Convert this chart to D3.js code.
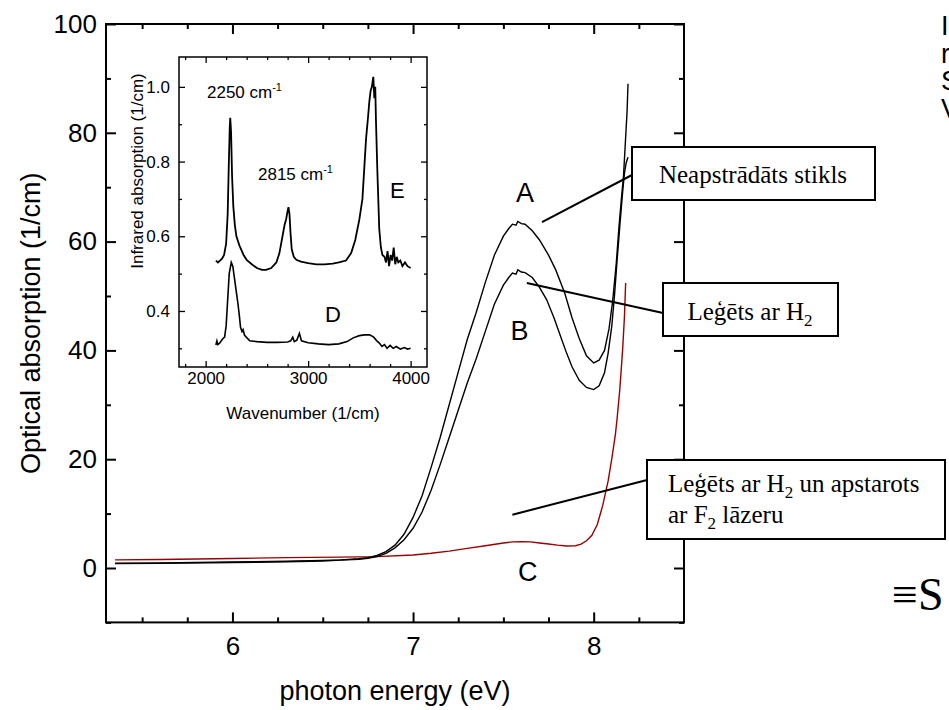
<!DOCTYPE html>
<html><head><meta charset="utf-8">
<script src="https://cdn.jsdelivr.net/npm/d3@7"></script>
<style>body{margin:0;background:#fff}svg{display:block}</style>
</head><body>
<svg id="c" width="949" height="710"></svg>
<script>
// ---------- DATA ----------
const xDomain = [5.3, 8.5];
const yDomain = [-10, 100];
const xMajor = [6, 7, 8];
const xMinor = [5.5, 5.75, 6.25, 6.5, 6.75, 7.25, 7.5, 7.75, 8.25];
const yMajor = [0, 20, 40, 60, 80, 100];
const yMinor = [-10, 10, 30, 50, 70, 90];

const energyA = [5.35,5.6,6.0,6.3,6.5,6.6,6.7,6.75,6.8,6.85,6.9,6.95,7.0,7.05,7.1,7.15,7.2,7.25,7.3,7.35,7.4,7.45,7.5,7.53,7.55,7.57,7.58,7.6,7.62,7.66,7.7,7.75,7.79,7.84,7.88,7.92,7.96,8.0,8.03,8.06,8.085,8.105,8.125,8.14,8.155,8.165,8.175,8.185,8.19];
const absA    = [0.9,0.95,1.1,1.25,1.4,1.5,1.7,1.9,2.3,3.0,4.2,6.2,9.3,13.3,18.5,24,30,36,42,47,52.5,57.5,61,62.4,63.2,63.0,63.7,63.3,63.2,62,60.3,57.5,54.8,50.5,46,42.2,39,37.7,38.2,40,44,49,56,62.7,68.5,72,78,84,89];

const energyB = [5.35,5.6,6.0,6.3,6.5,6.6,6.7,6.75,6.8,6.85,6.9,6.95,7.0,7.05,7.1,7.15,7.2,7.25,7.3,7.35,7.4,7.45,7.5,7.53,7.55,7.57,7.58,7.6,7.62,7.66,7.7,7.74,7.78,7.81,7.85,7.88,7.92,7.96,8.0,8.03,8.06,8.08,8.1,8.115,8.13,8.145,8.16,8.17,8.18,8.19];
const absB    = [0.8,0.85,1.0,1.15,1.3,1.45,1.6,1.8,2.1,2.7,3.7,5.2,7.3,10.3,14.3,19,24,29,34,38.5,43.5,48.5,52,53.4,54.2,54.0,54.8,54.4,54.3,53.4,51.6,49.3,46,43.2,39.5,37,34.5,33.2,32.8,33.5,35.9,39.5,44.4,50,56.7,63,69,72.5,74.5,75.5];

const energyC = [5.35,5.6,6.0,6.3,6.6,6.8,7.0,7.1,7.2,7.3,7.4,7.5,7.55,7.6,7.65,7.7,7.75,7.8,7.85,7.9,7.93,7.96,7.99,8.02,8.05,8.08,8.1,8.12,8.13,8.145,8.16,8.17,8.177];
const absC    = [1.5,1.55,1.75,1.9,2.0,2.1,2.4,2.7,3.1,3.6,4.1,4.6,4.8,4.85,4.8,4.6,4.4,4.2,4.05,4.1,4.4,5.0,6.0,8,11.5,16,20,24.5,27.6,33,40,46,52.4];

// inset
const ixDomain = [1740, 4160];
const iyDomain = [0.25, 1.08];
const ixMajor = [2000, 3000, 4000];
const ixMinor = [1800, 2200, 2400, 2600, 2800, 3200, 3400, 3600, 3800];
const iyMajor = [0.4, 0.6, 0.8, 1.0];
const iyMinor = [0.3, 0.5, 0.7, 0.9];

const wnE = [2100,2120,2140,2160,2180,2200,2215,2225,2235,2240,2248,2258,2270,2285,2300,2330,2370,2400,2450,2500,2550,2590,2640,2690,2720,2750,2770,2785,2798,2808,2818,2828,2840,2860,2885,2930,3000,3080,3160,3240,3300,3370,3420,3460,3500,3530,3565,3585,3597,3610,3622,3636,3646,3655,3662,3675,3694,3710,3725,3745,3760,3775,3790,3805,3820,3835,3850,3865,3880,3900,3920,3945,3970,4000];
const irE = [0.535,0.53,0.535,0.54,0.55,0.58,0.66,0.78,0.89,0.917,0.88,0.76,0.68,0.63,0.6,0.575,0.55,0.537,0.525,0.515,0.51,0.51,0.515,0.53,0.555,0.6,0.63,0.645,0.665,0.678,0.66,0.61,0.565,0.545,0.537,0.532,0.528,0.525,0.525,0.527,0.53,0.535,0.555,0.59,0.645,0.7,0.86,0.92,0.96,0.99,1.0,1.027,0.97,1.0,0.91,0.78,0.62,0.57,0.55,0.545,0.53,0.56,0.52,0.55,0.535,0.57,0.525,0.545,0.53,0.535,0.52,0.53,0.52,0.515];

const wnD = [2100,2110,2120,2140,2165,2185,2200,2215,2230,2250,2265,2280,2300,2315,2330,2340,2355,2365,2380,2430,2500,2600,2700,2800,2830,2850,2865,2890,2915,2935,3000,3100,3200,3300,3380,3440,3500,3550,3600,3640,3670,3695,3720,3745,3770,3800,3830,3860,3900,3940,3970,4000];
const irD = [0.309,0.32,0.31,0.315,0.325,0.33,0.36,0.43,0.5,0.53,0.52,0.49,0.45,0.42,0.385,0.357,0.345,0.35,0.335,0.32,0.318,0.316,0.316,0.317,0.32,0.33,0.318,0.322,0.34,0.32,0.315,0.312,0.31,0.312,0.318,0.328,0.334,0.336,0.336,0.33,0.32,0.314,0.305,0.31,0.3,0.308,0.3,0.305,0.298,0.302,0.298,0.3];

// ---------- LAYOUT ----------
const SANS = "'Liberation Sans', Arial, Helvetica, sans-serif";
const SERIF = "'Liberation Serif', 'Times New Roman', serif";
const svg = d3.select("#c");

const M = {l:106, r:684, t:24, b:622.4};
const x = d3.scaleLinear().domain(xDomain).range([M.l, M.r]);
const y = d3.scaleLinear().domain(yDomain).range([M.b, M.t]);

// curves
const mline = d3.line().x(d=>x(d[0])).y(d=>y(d[1]));
const gC = svg.append("g").attr("fill","none");
gC.append("path").attr("d", mline(d3.zip(energyC, absC))).attr("stroke","#990000").attr("stroke-width",1.4);
gC.append("path").attr("d", mline(d3.zip(energyB, absB))).attr("stroke","#000").attr("stroke-width",1.4);
gC.append("path").attr("d", mline(d3.zip(energyA, absA))).attr("stroke","#000").attr("stroke-width",1.4);

// axes helpers
function styleAxis(g, fs, font){
  g.select(".domain").remove();
  g.selectAll("line").attr("stroke","#000").attr("stroke-width",2);
  g.selectAll("text").attr("font-family",font).attr("font-size",fs).attr("fill","#000");
}
const gA = svg.append("g");
gA.append("g").attr("transform",`translate(0,${M.b})`)
  .call(d3.axisBottom(x).tickValues(xMajor).tickSize(-10).tickPadding(14).tickFormat(d3.format("d")))
  .call(g=>styleAxis(g,26,SANS));
gA.append("g").attr("transform",`translate(0,${M.b})`)
  .call(d3.axisBottom(x).tickValues(xMinor).tickSize(-5).tickFormat(""))
  .call(g=>styleAxis(g,26,SANS));
gA.append("g").attr("transform",`translate(0,${M.t})`)
  .call(d3.axisTop(x).tickValues(xMajor).tickSize(-10).tickFormat(""))
  .call(g=>styleAxis(g,26,SANS));
gA.append("g").attr("transform",`translate(0,${M.t})`)
  .call(d3.axisTop(x).tickValues(xMinor).tickSize(-5).tickFormat(""))
  .call(g=>styleAxis(g,26,SANS));
gA.append("g").attr("transform",`translate(${M.l},0)`)
  .call(d3.axisLeft(y).tickValues(yMajor).tickSize(-10).tickPadding(9).tickFormat(d3.format("d")))
  .call(g=>styleAxis(g,26,SANS));
gA.append("g").attr("transform",`translate(${M.l},0)`)
  .call(d3.axisLeft(y).tickValues(yMinor).tickSize(-5).tickFormat(""))
  .call(g=>styleAxis(g,26,SANS));
gA.append("g").attr("transform",`translate(${M.r},0)`)
  .call(d3.axisRight(y).tickValues(yMajor).tickSize(-10).tickFormat(""))
  .call(g=>styleAxis(g,26,SANS));
gA.append("g").attr("transform",`translate(${M.r},0)`)
  .call(d3.axisRight(y).tickValues(yMinor).tickSize(-5).tickFormat(""))
  .call(g=>styleAxis(g,26,SANS));
svg.append("rect").attr("x",M.l).attr("y",M.t).attr("width",M.r-M.l).attr("height",M.b-M.t)
  .attr("fill","none").attr("stroke","#000").attr("stroke-width",2);

// axis titles
svg.append("text").attr("x",(M.l+M.r)/2).attr("y",700).attr("text-anchor","middle")
  .attr("font-family",SANS).attr("font-size",27).text("photon energy (eV)");
svg.append("text").attr("transform",`translate(40,${(M.t+M.b)/2}) rotate(-90)`).attr("text-anchor","middle")
  .attr("font-family",SANS).attr("font-size",27).text("Optical absorption (1/cm)");

// curve letters
const letters = [["A",7.62,69.1],["B",7.59,43.7],["C",7.635,-0.5]];
letters.forEach(([t,ex,ey])=>{
  svg.append("text").attr("x",x(ex)).attr("y",y(ey)+10).attr("text-anchor","middle")
    .attr("font-family",SANS).attr("font-size",27).text(t);
});

// ---------- INSET ----------
const I = {l:179, r:427, t:57, b:367};
const ix = d3.scaleLinear().domain(ixDomain).range([I.l, I.r]);
const iy = d3.scaleLinear().domain(iyDomain).range([I.b, I.t]);
svg.append("rect").attr("x",I.l).attr("y",I.t).attr("width",I.r-I.l).attr("height",I.b-I.t).attr("fill","#fff");
const iline = d3.line().x(d=>ix(d[0])).y(d=>iy(d[1]));
svg.append("path").attr("d", iline(d3.zip(wnE, irE))).attr("fill","none").attr("stroke","#000").attr("stroke-width",1.8);
svg.append("path").attr("d", iline(d3.zip(wnD, irD))).attr("fill","none").attr("stroke","#000").attr("stroke-width",1.6);

function styleI(g){
  g.select(".domain").remove();
  g.selectAll("line").attr("stroke","#000").attr("stroke-width",1.3);
  g.selectAll("text").attr("font-family",SANS).attr("font-size",17).attr("fill","#000");
}
const gI = svg.append("g");
gI.append("g").attr("transform",`translate(0,${I.b})`)
  .call(d3.axisBottom(ix).tickValues(ixMajor).tickSize(-6).tickPadding(5).tickFormat(d3.format("d"))).call(styleI);
gI.append("g").attr("transform",`translate(0,${I.b})`)
  .call(d3.axisBottom(ix).tickValues(ixMinor).tickSize(-3).tickFormat("")).call(styleI);
gI.append("g").attr("transform",`translate(0,${I.t})`)
  .call(d3.axisTop(ix).tickValues(ixMajor).tickSize(-6).tickFormat("")).call(styleI);
gI.append("g").attr("transform",`translate(0,${I.t})`)
  .call(d3.axisTop(ix).tickValues(ixMinor).tickSize(-3).tickFormat("")).call(styleI);
gI.append("g").attr("transform",`translate(${I.l},0)`)
  .call(d3.axisLeft(iy).tickValues(iyMajor).tickSize(-6).tickPadding(9).tickFormat(d3.format(".1f"))).call(styleI);
gI.append("g").attr("transform",`translate(${I.l},0)`)
  .call(d3.axisLeft(iy).tickValues(iyMinor).tickSize(-3).tickFormat("")).call(styleI);
gI.append("g").attr("transform",`translate(${I.r},0)`)
  .call(d3.axisRight(iy).tickValues(iyMajor).tickSize(-6).tickFormat("")).call(styleI);
gI.append("g").attr("transform",`translate(${I.r},0)`)
  .call(d3.axisRight(iy).tickValues(iyMinor).tickSize(-3).tickFormat("")).call(styleI);
svg.append("rect").attr("x",I.l).attr("y",I.t).attr("width",I.r-I.l).attr("height",I.b-I.t)
  .attr("fill","none").attr("stroke","#000").attr("stroke-width",1.5);

svg.append("text").attr("x",(I.l+I.r)/2).attr("y",419).attr("text-anchor","middle")
  .attr("font-family",SANS).attr("font-size",17).text("Wavenumber (1/cm)");
svg.append("text").attr("transform",`translate(143,171) rotate(-90)`).attr("text-anchor","middle")
  .attr("font-family",SANS).attr("font-size",17).text("Infrared absorption (1/cm)");

// peak labels
const peakLabels = [["2250",2013,0.97],["2815",2511,0.75]];
peakLabels.forEach(([v,wx,wy])=>{
  const t = svg.append("text").attr("x",ix(wx)).attr("y",iy(wy)).attr("font-family",SANS).attr("font-size",17);
  t.append("tspan").text(v+" cm");
  t.append("tspan").attr("dy",-7).attr("font-size",11).text("-1");
});
[["E",3799,0.703],["D",3165,0.37]].forEach(([t,wx,wy])=>{
  svg.append("text").attr("x",ix(wx)).attr("y",iy(wy)).attr("font-family",SANS).attr("font-size",22).text(t);
});

// ---------- CALLOUT BOXES ----------
const leaders = [
  [[7.714,63.6],[632,175]],
  [[7.63,52.4],[663,313]],
  [[7.55,9.8],[647,480]]
];
leaders.forEach(([a,b])=>{
  svg.append("line").attr("x1",x(a[0])).attr("y1",y(a[1])).attr("x2",b[0]).attr("y2",b[1])
    .attr("stroke","#000").attr("stroke-width",2);
});
function box(x0,y0,w,h){
  svg.append("rect").attr("x",x0).attr("y",y0).attr("width",w).attr("height",h)
    .attr("fill","#fff").attr("stroke","#000").attr("stroke-width",2);
}
box(632,147,243,53);
svg.append("text").attr("x",753).attr("y",183).attr("text-anchor","middle")
  .attr("font-family",SERIF).attr("font-size",25).text("Neapstrādāts stikls");
box(663,283,175,53);
(function(){
  const t = svg.append("text").attr("x",750).attr("y",320).attr("text-anchor","middle")
    .attr("font-family",SERIF).attr("font-size",25);
  t.append("tspan").text("Leģēts ar H");
  t.append("tspan").attr("dy",6).attr("font-size",17).text("2");
})();
box(647,460,298,79);
(function(){
  const t1 = svg.append("text").attr("x",668).attr("y",492).attr("font-family",SERIF).attr("font-size",25);
  t1.append("tspan").text("Leģēts ar H");
  t1.append("tspan").attr("dy",6).attr("font-size",17).text("2");
  t1.append("tspan").attr("dy",-6).text(" un apstarots");
  const t2 = svg.append("text").attr("x",668).attr("y",523).attr("font-family",SERIF).attr("font-size",25);
  t2.append("tspan").text("ar F");
  t2.append("tspan").attr("dy",6).attr("font-size",17).text("2");
  t2.append("tspan").attr("dy",-6).text(" lāzeru");
})();

// text cut by the right edge (as in the source figure)
["In","r","S","V"].forEach((t,i)=>{
  svg.append("text").attr("x",941).attr("y",35+i*27.5).attr("font-family",SANS).attr("font-size",27).text(t);
});
svg.append("text").attr("x",892).attr("y",610).attr("font-family",SERIF).attr("font-size",46).text("≡S");
</script>
</body></html>
